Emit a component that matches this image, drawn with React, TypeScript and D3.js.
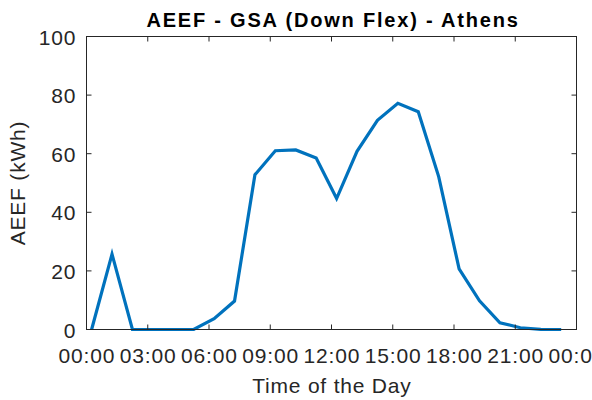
import React from "react";
import * as d3 from "d3";

const hours: number[] = [0.25,1.25,2.25,3.25,4.25,5.25,6.25,7.25,8.25,9.25,10.25,11.25,12.25,13.25,14.25,15.25,16.25,17.25,18.25,19.25,20.25,21.25,22.25,23.25];
const values: number[] = [0,25.7,0,0,0,0,3.7,9.7,52.8,61,61.3,58.5,44.7,60.8,71.4,77.2,74.3,52.2,20.7,9.8,2.3,0.6,0.05,0];
const xTicks: number[] = [0,3,6,9,12,15,18,21,24];
const xTickLabels: string[] = ["00:00","03:00","06:00","09:00","12:00","15:00","18:00","21:00","00:00"];
const yTicks: number[] = [0,20,40,60,80,100];

const W = 592, H = 400;
const L = 86.5, R = 576.5, T = 36.5, B = 329.5;
const axisColor = "#262626";
const font = "Arial, 'Liberation Sans', Helvetica, sans-serif";
const fs = 21;
const ls = 0.8;

export default function App() {
  const x = d3.scaleLinear().domain([0, 24]).range([L, R]);
  const y = d3.scaleLinear().domain([0, 100]).range([B, T]);
  const line = d3.line<number>().x((_, i) => x(hours[i])).y((d) => y(d));
  const tl = 5;
  return (
    <svg width={W} height={H} style={{ position: "absolute", left: 0, top: 0, background: "#fff" }} fontFamily={font}>
      <rect x={0} y={0} width={W} height={H} fill="#fff" />
      <path d={line(values) || ""} fill="none" stroke="#0072BD" strokeWidth={3.2} strokeLinejoin="miter" />
      <rect x={L} y={T} width={R - L} height={B - T} fill="none" stroke={axisColor} strokeWidth={1} />
      {xTicks.map((t, i) => (
        <g key={"x" + i}>
          <line x1={x(t)} x2={x(t)} y1={B} y2={B - tl} stroke={axisColor} />
          <line x1={x(t)} x2={x(t)} y1={T} y2={T + tl} stroke={axisColor} />
          <text x={x(t) + ls / 2} y={363} textAnchor="middle" fontSize={fs} letterSpacing={ls} fill={axisColor}>{xTickLabels[i]}</text>
        </g>
      ))}
      {yTicks.map((t, i) => (
        <g key={"y" + i}>
          <line x1={L} x2={L + tl} y1={y(t)} y2={y(t)} stroke={axisColor} />
          <line x1={R} x2={R - tl} y1={y(t)} y2={y(t)} stroke={axisColor} />
          <text x={L - 11 + ls} y={y(t) + 8} textAnchor="end" fontSize={fs} letterSpacing={ls} fill={axisColor}>{t}</text>
        </g>
      ))}
      <text x={(L + R) / 2 + ls / 2} y={393} textAnchor="middle" fontSize={fs} letterSpacing={ls} fill={axisColor}>Time of the Day</text>
      <text transform={`translate(25,${(T + B) / 2}) rotate(-90)`} textAnchor="middle" fontSize={fs} letterSpacing={ls} fill={axisColor}>AEEF (kWh)</text>
      <text x={333} y={27} textAnchor="middle" fontSize={20} letterSpacing={1.8} fontWeight="bold" fill="#000">AEEF - GSA (Down Flex) - Athens</text>
    </svg>
  );
}
